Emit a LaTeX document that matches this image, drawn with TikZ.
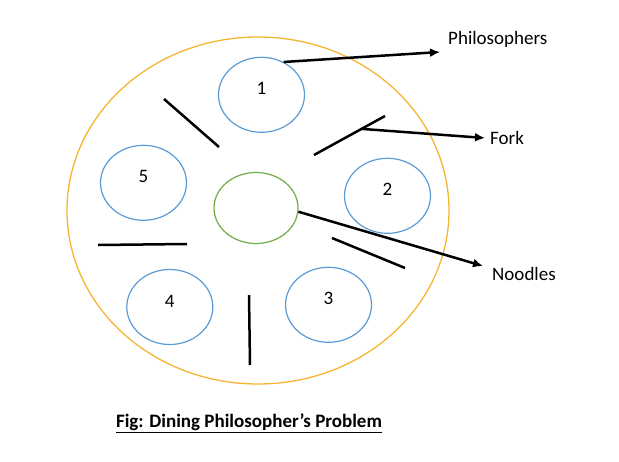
\documentclass[tikz,border=0pt]{standalone}
\usepackage{fontspec}
\setmainfont{Carlito}
\usetikzlibrary{shapes.geometric,arrows.meta,calc}
\definecolor{plate}{HTML}{F6B531}
\definecolor{philblue}{HTML}{5B9BD5}
\definecolor{noodle}{HTML}{70AD47}

\begin{document}
\begin{tikzpicture}[x=1pt,y=-1pt,font=\fontsize{19}{21}\selectfont,
 phil/.style={draw=philblue,ellipse,line width=1.2pt,minimum width=86pt,minimum height=75pt,inner sep=0pt},
 fork/.style={line width=2.5pt},
 pointer/.style={line width=2.5pt,-{Latex[length=10pt,width=9pt]}},
 lbl/.style={anchor=west,inner sep=0pt}]

\useasboundingbox (0,0) rectangle (619,461);

% plate and bowl
\node[draw=plate,ellipse,line width=1.3pt,minimum width=382pt,minimum height=347pt,inner sep=0pt] (plate) at (258,210.5) {};
\node[draw=noodle,ellipse,line width=1.2pt,minimum width=84pt,minimum height=71pt,inner sep=0pt] (bowl) at (256,208) {};

% philosophers
\foreach \n/\x/\y in {1/261.5/94.8,2/387.5/195.8,3/328.5/304.8,4/169.8/307,5/143.5/182.8}{
 \node[phil] (p\n) at (\x,\y) {};
 \node (t\n) at ([yshift=6pt]p\n.center) {\n};
}

% forks
\coordinate (fa1) at (164,99);   \coordinate (fa2) at (219,147);
\coordinate (fb1) at (314,155);  \coordinate (fb2) at (385,116);
\coordinate (fc1) at (332,238);  \coordinate (fc2) at (405,268);
\coordinate (fd1) at (249,295);  \coordinate (fd2) at (250,365);
\coordinate (fe1) at (98,245);   \coordinate (fe2) at (187,244);
\foreach \f in {a,b,c,d,e} \draw[fork] (f\f1) -- (f\f2);

% labels
\node[lbl] (lphil) at (448,39) {Philosophers};
\node[lbl] (lfork) at (490,138) {Fork};
\node[lbl] (lnood) at (492,274) {Noodles};

\coordinate (philtip) at ([xshift=-8pt,yshift=-13pt]lphil.west);
\coordinate (forktip) at ([xshift=-5pt]lfork.west);
\coordinate (noodtip) at ([xshift=-9pt,yshift=8pt]lnood.west);

\draw[pointer] (p1.56) -- (philtip);
\draw[pointer] ($(fb1)!0.67!(fb2)$) -- (forktip);
\draw[pointer] (bowl.-5) -- (noodtip);

% caption
\node[font=\bfseries\fontsize{19}{21}\selectfont] (cap) at (249,423) {\underline{Fig: Dining Philosopher’s Problem}};

\end{tikzpicture}
\end{document}
